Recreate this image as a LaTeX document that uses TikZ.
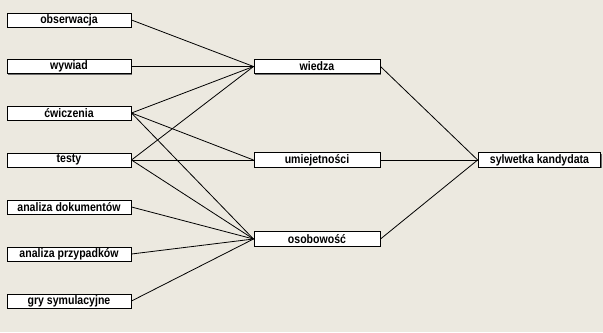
\documentclass[tikz,border=0pt]{standalone}
\usepackage{fontspec}
\setmainfont{Liberation Sans}
\newfontfamily\narrowfont[FakeStretch=0.86]{Liberation Sans}
\usetikzlibrary{shadows}
\definecolor{bgcol}{RGB}{236,233,224}
\definecolor{shcol}{RGB}{110,110,110}
\begin{document}
\begin{tikzpicture}[x=0.75pt,y=-0.75pt,
  box/.style={draw=black, line width=0.75pt, fill=white, inner sep=0pt,
    font=\narrowfont\fontsize{9.2}{10}\selectfont\bfseries,
    drop shadow={shadow xshift=0.75pt, shadow yshift=-0.75pt, fill=shcol, opacity=1}},
  leftbox/.style={box, minimum width=93pt, minimum height=10.5pt},
  midbox/.style={box, minimum width=94.5pt, minimum height=11pt},
  link/.style={draw=black, line width=0.6pt}]
\fill[bgcol] (0,0) rectangle (603,332);
\useasboundingbox (0,0) rectangle (603,332);
\node[leftbox] (obs) at (69,20) {obserwacja};
\node[leftbox] (wyw) at (69,66.5) {wywiad};
\node[leftbox] (cwi) at (69,113) {ćwiczenia};
\node[leftbox] (tes) at (69,160) {testy};
\node[leftbox] (dok) at (69,207) {analiza dokumentów};
\node[leftbox] (prz) at (69,254) {analiza przypadków};
\node[leftbox] (gry) at (69,301) {gry symulacyjne};
\node[midbox] (wie) at (317,66.5) {wiedza};
\node[midbox] (umi) at (317,160) {umiejetności};
\node[midbox] (oso) at (317,239) {osobowość};
\node[box, minimum width=92pt, minimum height=11pt] (syl) at (539.5,160) {sylwetka kandydata};
\foreach \a/\b in {obs/wie, wyw/wie, cwi/wie, cwi/umi, cwi/oso, tes/wie, tes/umi, tes/oso, dok/oso, prz/oso, gry/oso}
  \draw[link] (\a.east) -- (\b.west);
\foreach \a in {wie, umi, oso}
  \draw[link] (\a.east) -- (syl.west);
\end{tikzpicture}
\end{document}
